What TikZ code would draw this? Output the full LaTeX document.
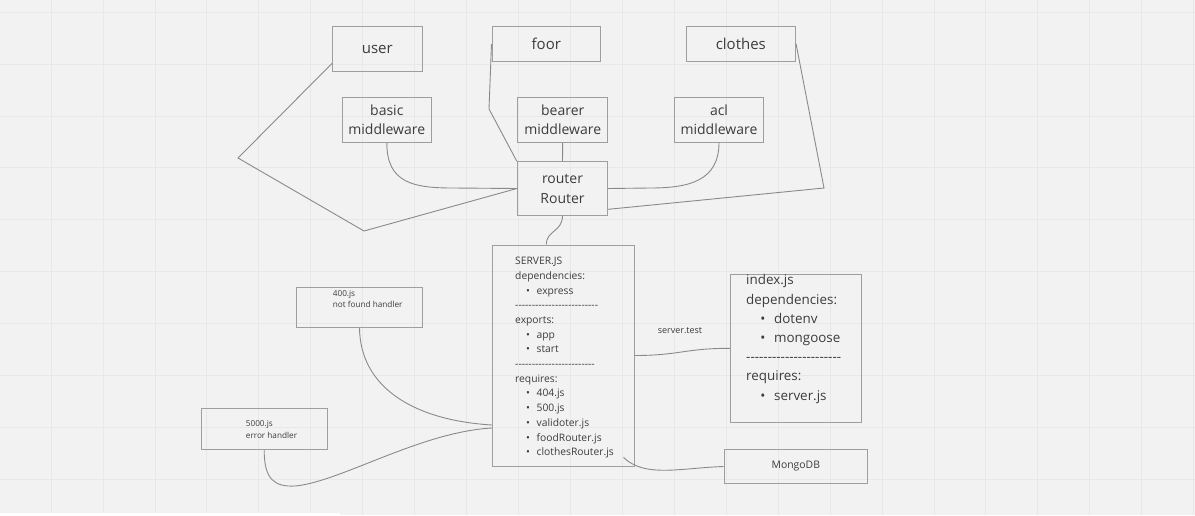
\documentclass[tikz,border=0pt]{standalone}
\usepackage{fontspec}
\setmainfont{Open Sans}
\definecolor{bggray}{HTML}{F2F2F2}
\definecolor{gridgray}{HTML}{E8E8E8}
\definecolor{boxgray}{HTML}{9E9E9E}
\definecolor{lngray}{HTML}{8A8A8A}
\definecolor{txtgray}{HTML}{3C3C3C}
\newcommand{\itm}[1]{\hspace*{1.05em}\textbullet\hspace{.66em}#1}
\newcommand{\dashrow}[1]{\foreach \k in {1,...,#1}{-}}

\begin{document}
\begin{tikzpicture}[x=1pt,y=-1pt,
  box/.style={draw=boxgray,line width=0.9pt,inner sep=0pt,text=txtgray,align=center},
  ln/.style={draw=lngray,line width=0.9pt},
  txt/.style={inner sep=0pt,text=txtgray,align=left,anchor=north west},
  gridln/.style={draw=gridgray,line width=0.6pt}]

\useasboundingbox (0,0) rectangle (1195,515);

% Sfondo con griglia
\fill[bggray] (0,0) rectangle (1195,515);
\foreach \i in {0,...,22} \draw[gridln] ({51+51.93*\i},0) -- ++(0,515);
\foreach \j in {0,...,9} \draw[gridln] (0,{12+51.93*\j}) -- ++(1195,0);
\fill[white] (0,512.7) rectangle (340,515);

% Risorse in alto
\node[box,minimum width=89.3pt,minimum height=45pt,font=\fontsize{15}{20}\selectfont] (user) at (377.3,49.2) {user};
\node[box,minimum width=108.7pt,minimum height=34.7pt,font=\fontsize{15}{20}\selectfont] (foor) at (546.3,44) {foor};
\node[box,minimum width=109.7pt,minimum height=34.7pt,font=\fontsize{15}{20}\selectfont] (clothes) at (740.8,44) {clothes};

% Middleware
\node[box,minimum width=89.7pt,minimum height=45pt,font=\fontsize{14}{19.5}\selectfont] (basic) at (386.8,119.8) {basic\\middleware};
\node[box,minimum width=90pt,minimum height=45pt,font=\fontsize{14}{19.5}\selectfont] (bearer) at (562.7,119.8) {bearer\\middleware};
\node[box,minimum width=89.4pt,minimum height=45pt,font=\fontsize{14}{19.5}\selectfont] (acl) at (719,119.5) {acl\\middleware};

% Router
\node[box,minimum width=90.4pt,minimum height=53.6pt,font=\fontsize{14}{20}\selectfont] (router) at (562.5,188.5) {router\\Router};

% Server e index
\node[box,minimum width=141.7pt,minimum height=221pt] (server) at (563.2,355.5) {};
\node[txt,font=\fontsize{10.3}{14.7}\selectfont] (servertxt) at (515,257) {SERVER.JS\\dependencies:\\\itm{express}\\\dashrow{25}\\exports:\\\itm{app}\\\itm{start}\\\dashrow{24}\\requires:\\\itm{404.js}\\\itm{500.js}\\\itm{validoter.js}\\\itm{foodRouter.js}\\\itm{clothesRouter.js}};

\node[box,minimum width=131.4pt,minimum height=148pt] (index) at (796,348.3) {};
\node[txt,font=\fontsize{13.4}{19.2}\selectfont] (indextxt) at (746,274.5) {index.js\\dependencies:\\\itm{dotenv}\\\itm{mongoose}\\\dashrow{22}\\requires:\\\itm{server.js}};

% Handler
\node[box,minimum width=125.6pt,minimum height=40pt] (nf) at (359.5,307.3) {};
\node[txt,font=\fontsize{8.2}{11.7}\selectfont] (nftxt) at (332.7,290) {400.js\\not found handler};
\node[box,minimum width=125.7pt,minimum height=40.6pt] (err) at (264.2,429) {};
\node[txt,font=\fontsize{8.2}{11.8}\selectfont] (errtxt) at (245.7,420) {5000.js\\error handler};

% Database
\node[box,minimum width=143.7pt,minimum height=34.4pt,font=\fontsize{10.4}{14}\selectfont] (mongo) at (795.8,466.5) {MongoDB};

% Collegamenti delle risorse
\draw[ln] ([yshift=-14pt]user.west) -- (238,158) -- (364,231) -- (router.west);
\draw[ln] (foor.west) -- (489,109) -- (router.north west);
\draw[ln] (clothes.east) -- (824,188) -- ([yshift=-20.8pt]router.east);

% Collegamenti dei middleware
\draw[ln] (basic.south) .. controls +(0,40) and (413,188) .. (453,188) -- (router.west);
\draw[ln] (acl.south) .. controls +(0,38) and (690,188) .. (650,188) -- (router.east);
\draw[ln] (bearer.south) -- (router.north);

% Router e server
\draw[ln] (router.south) .. controls +(0,16) and +(0,-14) .. ([xshift=-17pt]server.north);

% server.test
\draw[ln] (server.east) .. controls +(45,0) and +(-45,0) .. (index.west);
\node[inner sep=0pt,text=txtgray,font=\fontsize{9}{11}\selectfont] (sttxt) at (680,330.5) {server.test};

% MongoDB
\draw[ln] ([shift={(-11pt,9pt)}]server.south east) .. controls (645,478) and (680,468) .. (mongo.west);

% Handler verso il server
\draw[ln] (nf.south) .. controls (360,385) and (410,420) .. ([yshift=-69.5pt]server.west);
\draw[ln] (err.south) .. controls (264,480) and (275,487) .. (295,486) .. controls (340,482) and (420,432) .. ([yshift=-72.5pt]server.west);

\end{tikzpicture}
\end{document}
